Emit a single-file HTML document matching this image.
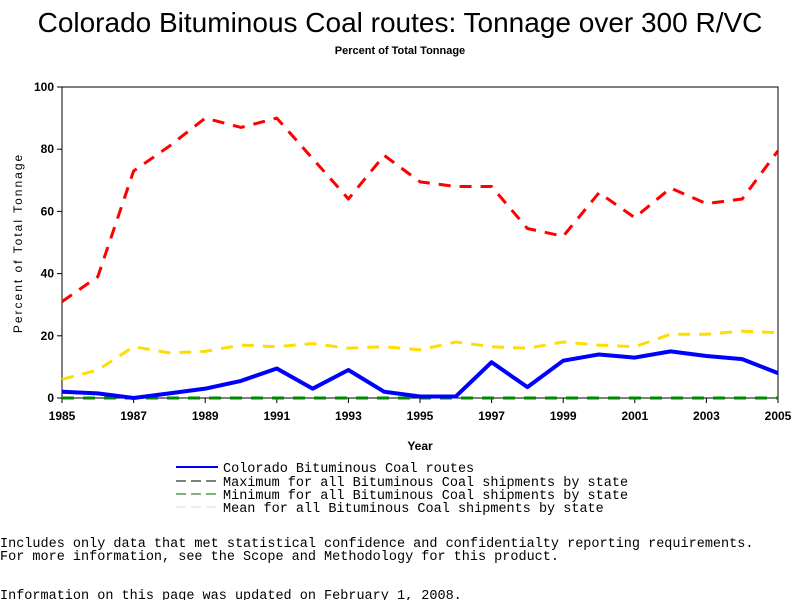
<!DOCTYPE html>
<html><head><meta charset="utf-8"><style>
body{margin:0;background:#fff;width:800px;height:600px;overflow:hidden;font-family:"Liberation Sans",sans-serif}
svg text{font-family:"Liberation Sans",sans-serif}
.mono{font-family:"Liberation Mono",monospace;font-size:13.5px}
</style></head><body>
<svg width="800" height="600">
<text x="400" y="32" text-anchor="middle" font-size="28">Colorado Bituminous Coal routes: Tonnage over 300 R/VC</text>
<text x="400" y="54" text-anchor="middle" font-size="11" font-weight="bold">Percent of Total Tonnage</text>
<g id="axes"></g>
<g id="series"></g>
<text x="420" y="450" text-anchor="middle" font-size="12" font-weight="bold">Year</text>
<text transform="translate(22,243) rotate(-90)" text-anchor="middle" font-size="12" letter-spacing="2">Percent of Total Tonnage</text>
<g>
<line x1="176" y1="467" x2="218" y2="467" stroke="#00f" stroke-width="2"/>
<text x="223" y="472" class="mono">Colorado Bituminous Coal routes</text>
<line x1="176" y1="481" x2="218" y2="481" stroke="#000" stroke-dasharray="10,5"/>
<text x="223" y="486" class="mono">Maximum for all Bituminous Coal shipments by state</text>
<line x1="176" y1="494" x2="218" y2="494" stroke="#060" stroke-dasharray="10,5"/>
<text x="223" y="499" class="mono">Minimum for all Bituminous Coal shipments by state</text>
<line x1="176" y1="507" x2="218" y2="507" stroke="#ddd" stroke-dasharray="10,5"/>
<text x="223" y="512" class="mono">Mean for all Bituminous Coal shipments by state</text>
</g>
<text x="0" y="547" class="mono">Includes only data that met statistical confidence and confidentialty reporting requirements.</text>
<text x="0" y="560" class="mono">For more information, see the Scope and Methodology for this product.</text>
<text x="0" y="599" class="mono">Information on this page was updated on February 1, 2008.</text>
</svg>
<script>
const years=[1985,1986,1987,1988,1989,1990,1991,1992,1993,1994,1995,1996,1997,1998,1999,2000,2001,2002,2003,2004,2005];
const maxVals=[31,39,73,81,90,87,90,77,64,78,69.5,68,68,54.5,52,66,58,67.5,62.5,64,79.5];
const meanVals=[6,9,16.5,14.5,15,17,16.5,17.5,16,16.5,15.5,18,16.5,16,18,17,16.5,20.5,20.5,21.5,21];
const coloVals=[2,1.5,0,1.5,3,5.5,9.5,3,9,2,0.5,0.5,11.5,3.5,12,14,13,15,13.5,12.5,8];
const minVals=[0,0,0,0,0,0,0,0,0,0,0,0,0,0,0,0,0,0,0,0,0];
const xTicks=[1985,1987,1989,1991,1993,1995,1997,1999,2001,2003,2005];
const yTicks=[0,20,40,60,80,100];
const X0=62,X1=778,Y0=398,Y1=87;
const xs=v=>X0+(v-1985)/20*(X1-X0);
const ys=v=>Y0-v/100*(Y0-Y1);
const NS='http://www.w3.org/2000/svg';
function mk(t,a,p){const e=document.createElementNS(NS,t);for(const k in a)e.setAttribute(k,a[k]);p.appendChild(e);return e;}
const ax=document.getElementById('axes');
const frame=mk('rect',{x:X0,y:Y1,width:X1-X0,height:Y0-Y1,fill:'none',stroke:'#000'},ax);


xTicks.forEach(t=>{mk('line',{x1:xs(t),x2:xs(t),y1:Y0,y2:Y0+5,stroke:'#000'},ax);
const tx=mk('text',{x:xs(t),y:Y0+22,'text-anchor':'middle','font-size':12,'font-weight':'bold'},ax);tx.textContent=t;

});
yTicks.forEach(t=>{mk('line',{x1:X0-5,x2:X0,y1:ys(t),y2:ys(t),stroke:'#000'},ax);
const tx=mk('text',{x:X0-8,y:ys(t)+4,'text-anchor':'end','font-size':12,'font-weight':'bold'},ax);tx.textContent=t;

});
const sg=document.getElementById('series');
function line(vals,color,w,dash,name){
const p=mk('polyline',{points:vals.map((v,i)=>xs(years[i])+','+ys(v)).join(' '),fill:'none',stroke:color,'stroke-width':w,'stroke-linejoin':'round'},sg);
if(dash)p.setAttribute('stroke-dasharray',dash);

}
line(minVals,'#080',3,'12,9','series-minimum');
line(maxVals,'#f00',3,'12,9','series-maximum');
line(meanVals,'#fd0',3,'12,9','series-mean');
line(coloVals,'#00f',4,null,'series-colorado');
</script>
</body></html>
